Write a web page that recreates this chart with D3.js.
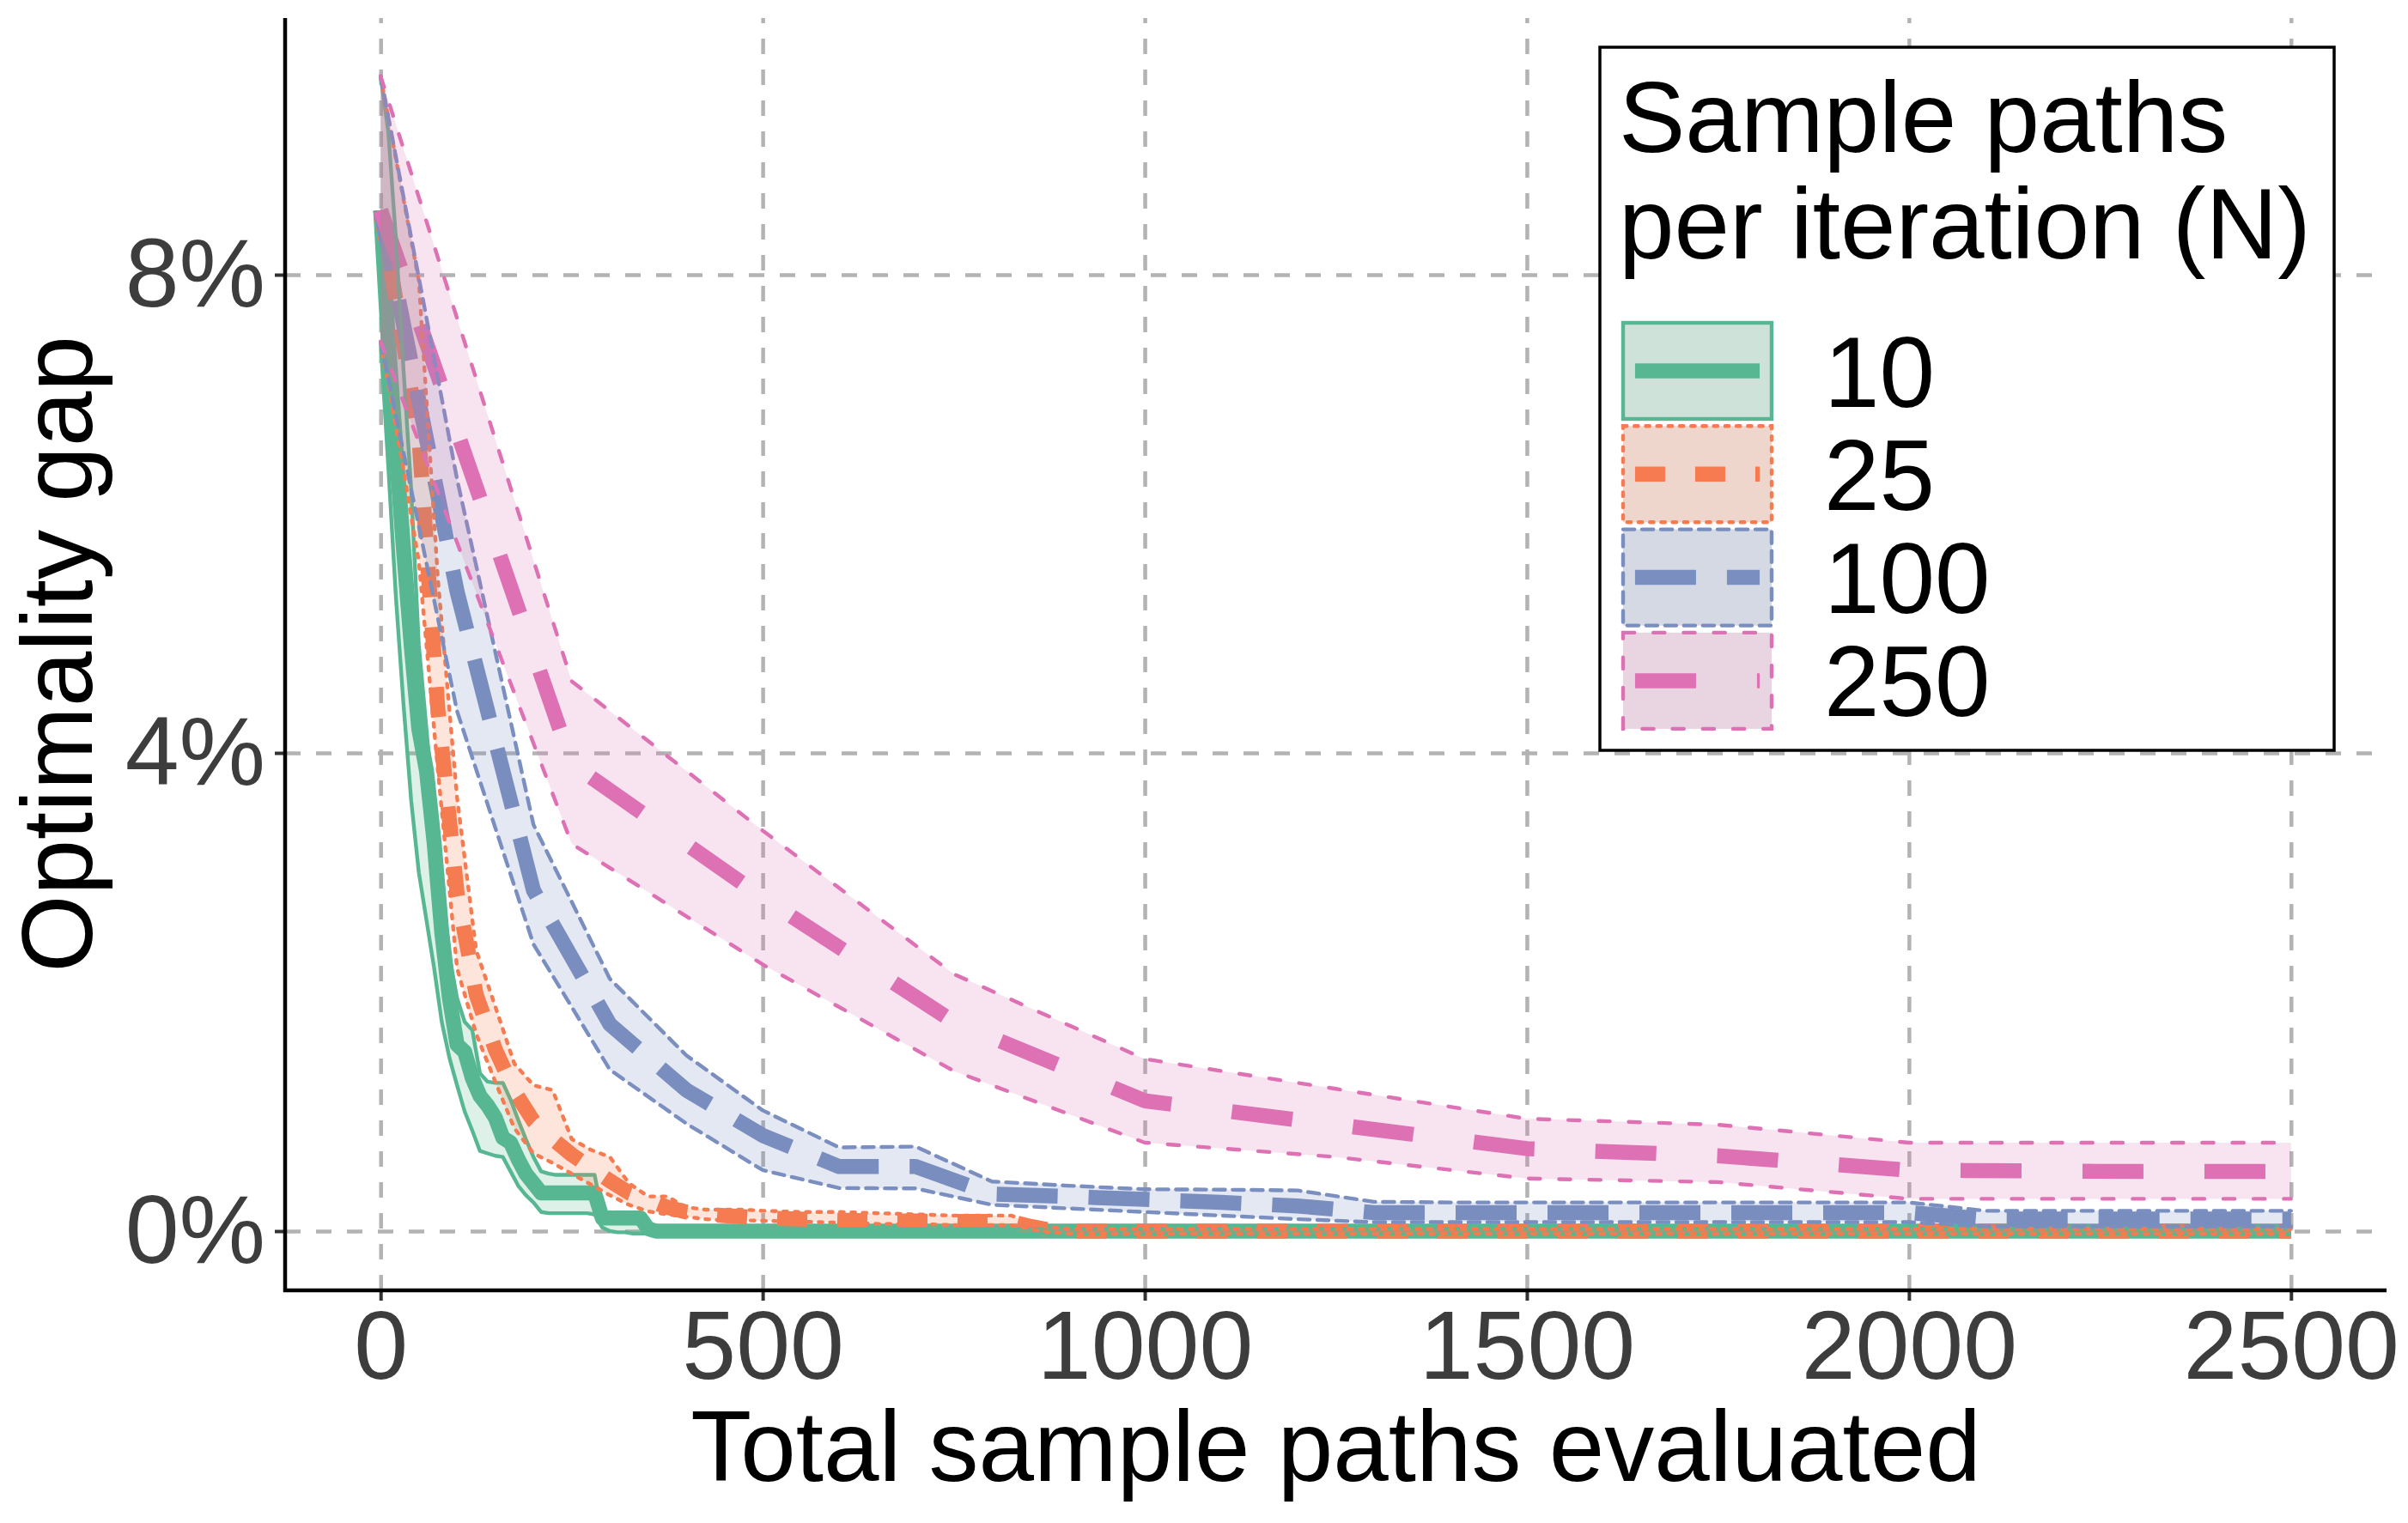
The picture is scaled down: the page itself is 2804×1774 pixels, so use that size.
<!DOCTYPE html>
<html>
<head>
<meta charset="utf-8">
<script src="https://cdn.jsdelivr.net/npm/d3@7"></script>
<style>
html, body { margin: 0; padding: 0; background: #fff; }
svg text { font-family: "Liberation Sans", Arial, Helvetica, sans-serif; }
</style>
</head>
<body>
<div id="container"></div>
<script>
const width = 2804;
const height = 1774;

// ---- data (optimality gap in %) ----
const groups = ['10', '25', '100', '250'];
const xTicks = [0, 500, 1000, 1500, 2000, 2500];
const yTicks = [0, 4, 8];

const x10 = [0,10,20,30,40,50,60,70,80,90,100,110,120,130,140,150,160,170,180,190,200,210,220,230,240,250,260,270,280,290,300,310,320,330,340,350,360,370,380,390,400,2500];
const mean10 = [8.54,7.45,6.55,5.70,4.90,4.20,3.85,3.25,2.50,1.95,1.56,1.50,1.28,1.13,1.05,0.95,0.78,0.74,0.60,0.48,0.40,0.32,0.32,0.32,0.32,0.32,0.32,0.32,0.32,0.11,0.11,0.11,0.11,0.11,0.11,0.02,0,0,0,0,0,0];
const upper10 = [9.66,9.20,8.30,7.20,6.20,4.90,4.20,3.50,2.90,2.30,1.95,1.75,1.68,1.32,1.25,1.24,1.24,1.10,0.93,0.77,0.62,0.50,0.48,0.47,0.47,0.47,0.47,0.47,0.47,0.15,0.15,0.15,0.15,0.12,0.09,0.05,0.04,0.03,0.03,0.02,0.02,0.02];
const lower10 = [7.44,6.40,5.30,4.40,3.60,3.00,2.60,2.20,1.75,1.45,1.22,1.00,0.84,0.67,0.65,0.63,0.62,0.50,0.38,0.30,0.24,0.16,0.15,0.15,0.15,0.15,0.15,0.15,0.14,0.03,0.0,-0.01,-0.01,-0.02,-0.02,-0.02,-0.02,-0.02,-0.02,-0.02,-0.02,-0.02];

const x25 = [0,25,50,75,100,125,150,175,200,225,250,275,300,325,350,375,400,425,450,475,500,550,600,650,700,750,800,825,850,875,900,2500];
const mean25 = [8.54,7.60,6.65,4.35,2.83,1.98,1.52,1.17,0.92,0.77,0.64,0.53,0.42,0.32,0.26,0.20,0.16,0.14,0.13,0.12,0.11,0.10,0.09,0.085,0.085,0.08,0.08,0.08,0.04,0.01,0,0];
const upper25 = [9.66,8.80,7.95,5.45,3.63,2.35,1.88,1.40,1.22,1.18,0.77,0.68,0.62,0.40,0.29,0.29,0.20,0.18,0.18,0.18,0.17,0.16,0.16,0.15,0.14,0.13,0.13,0.13,0.08,0.03,0.02,0.02];
const lower25 = [7.44,6.55,5.60,3.85,2.20,1.65,1.25,0.86,0.65,0.57,0.48,0.39,0.30,0.22,0.165,0.14,0.12,0.10,0.09,0.09,0.086,0.08,0.07,0.06,0.06,0.05,0.05,0.05,0.02,-0.01,-0.02,-0.02];

const x100 = [0,100,200,300,400,500,600,700,800,900,1000,1100,1200,1300,1400,1500,1600,1700,1800,1900,2000,2100,2200,2300,2400,2500];
const mean100 = [8.54,5.35,2.85,1.73,1.18,0.80,0.54,0.54,0.31,0.29,0.265,0.24,0.21,0.155,0.155,0.155,0.155,0.155,0.155,0.155,0.155,0.10,0.10,0.10,0.10,0.10];
const upper100 = [9.66,6.29,3.40,2.11,1.47,1.01,0.70,0.707,0.415,0.38,0.35,0.347,0.34,0.245,0.24,0.24,0.24,0.24,0.24,0.24,0.24,0.17,0.17,0.17,0.17,0.17];
const lower100 = [7.44,4.35,2.40,1.35,0.90,0.51,0.36,0.357,0.22,0.19,0.16,0.13,0.10,0.075,0.075,0.075,0.075,0.075,0.075,0.075,0.075,0.04,0.04,0.04,0.04,0.04];

const x250 = [0,250,500,750,1000,1250,1500,1750,2000,2250,2500];
const mean250 = [8.54,3.91,2.79,1.75,1.09,0.89,0.69,0.63,0.51,0.50,0.50];
const upper250 = [9.66,4.60,3.35,2.15,1.44,1.19,0.94,0.89,0.74,0.74,0.74];
const lower250 = [7.44,3.24,2.23,1.34,0.74,0.62,0.44,0.41,0.27,0.27,0.27];

// ---- styles ----
const colors = { '10': '#57b793', '25': '#f67b50', '100': '#7a8ec0', '250': '#de71b4' };
const mainDash = { '10': null, '25': '35,35', '100': '71,36', '250': '71,71' };
const edgeDash = { '10': null, '25': '4.4,8.8', '100': '13.2,8.8', '250': '13.2,22' };

const series = [
    { n: '10', x: x10, mean: mean10, upper: upper10, lower: lower10 },
    { n: '25', x: x25, mean: mean25, upper: upper25, lower: lower25 },
    { n: '100', x: x100, mean: mean100, upper: upper100, lower: lower100 },
    { n: '250', x: x250, mean: mean250, upper: upper250, lower: lower250 }
];

const panel = { left: 332, right: 2779, top: 21, bottom: 1503 };

const xScale = d3.scaleLinear().domain([-125, 2625]).range([panel.left, panel.right]);
const yScale = d3.scaleLinear().domain([0, 8]).range([1434, 320]);

const svg = d3.select('#container')
    .append('svg')
    .attr('width', width)
    .attr('height', height)
    .style('display', 'block')
    .style('background-color', '#fff');

svg.append('defs').append('clipPath')
    .attr('id', 'panelClip')
    .append('rect')
    .attr('x', panel.left)
    .attr('y', panel.top)
    .attr('width', panel.right - panel.left)
    .attr('height', panel.bottom - panel.top);

/* GRID */
const grid = svg.append('g').attr('class', 'grid');
grid.append('g')
    .attr('transform', `translate(0,${panel.bottom})`)
    .call(d3.axisBottom(xScale).tickValues(xTicks).tickSize(-(panel.bottom - panel.top)).tickFormat(''))
    .call(g => g.select('.domain').remove());
grid.append('g')
    .attr('transform', `translate(${panel.left},0)`)
    .call(d3.axisLeft(yScale).tickValues(yTicks).tickSize(-(panel.right - panel.left)).tickFormat(''))
    .call(g => g.select('.domain').remove());
grid.selectAll('line')
    .attr('stroke', '#b3b3b3')
    .attr('stroke-width', 4.5)
    .attr('stroke-dasharray', '18,18');

/* DATA */
const plot = svg.append('g').attr('clip-path', 'url(#panelClip)');

const rows = s => s.x.map((xv, i) => ({ x: xv, m: s.mean[i], u: s.upper[i], l: s.lower[i] }));

const meanLine = d3.line().x(d => xScale(d.x)).y(d => yScale(d.m));
const upLine = d3.line().x(d => xScale(d.x)).y(d => yScale(d.u));
const loLine = d3.line().x(d => xScale(d.x)).y(d => yScale(d.l));
const band = d3.area().x(d => xScale(d.x)).y0(d => yScale(d.l)).y1(d => yScale(d.u));

// lines first, ribbons drawn over them
series.forEach(s => {
    plot.append('path')
        .attr('d', meanLine(rows(s)))
        .attr('fill', 'none')
        .attr('stroke', colors[s.n])
        .attr('stroke-width', 17.5)
        .attr('stroke-linejoin', 'round')
        .attr('stroke-linecap', 'butt')
        .attr('stroke-dasharray', mainDash[s.n]);
});

series.forEach(s => {
    const r = rows(s);
    plot.append('path')
        .attr('d', band(r))
        .attr('fill', colors[s.n])
        .attr('fill-opacity', 0.2);
    [upLine, loLine].forEach(fn => {
        plot.append('path')
            .attr('d', fn(r))
            .attr('fill', 'none')
            .attr('stroke', colors[s.n])
            .attr('stroke-width', 4.4)
            .attr('stroke-linejoin', 'round')
            .attr('stroke-linecap', s.n === '10' ? 'butt' : 'round')
            .attr('stroke-dasharray', edgeDash[s.n]);
    });
});

/* AXES */
const xAxis = svg.append('g')
    .attr('transform', `translate(0,${panel.bottom})`)
    .call(d3.axisBottom(xScale).tickValues(xTicks).tickSize(12).tickPadding(11).tickFormat(d3.format('d')));
const yAxis = svg.append('g')
    .attr('transform', `translate(${panel.left},0)`)
    .call(d3.axisLeft(yScale).tickValues(yTicks).tickSize(12).tickPadding(11).tickFormat(d => d + '%'));

[xAxis, yAxis].forEach(a => {
    a.select('.domain').remove();
    a.selectAll('.tick line').attr('stroke', '#333').attr('stroke-width', 4);
    a.selectAll('.tick text')
        .attr('fill', '#3d3d3d')
        .style('font-size', '113px')
        .style('font-family', '"Liberation Sans", Arial, sans-serif');
});

svg.append('line')
    .attr('x1', panel.left).attr('x2', panel.left)
    .attr('y1', panel.top).attr('y2', panel.bottom + 2)
    .attr('stroke', '#000').attr('stroke-width', 4.5);
svg.append('line')
    .attr('x1', panel.left - 2).attr('x2', panel.right)
    .attr('y1', panel.bottom).attr('y2', panel.bottom)
    .attr('stroke', '#000').attr('stroke-width', 4.5);

svg.append('text')
    .attr('x', (panel.left + panel.right) / 2)
    .attr('y', 1725)
    .attr('text-anchor', 'middle')
    .style('font-size', '116px')
    .attr('fill', '#000')
    .text('Total sample paths evaluated');

svg.append('text')
    .attr('transform', `translate(107,${(panel.top + panel.bottom) / 2}) rotate(-90)`)
    .attr('text-anchor', 'middle')
    .style('font-size', '116px')
    .attr('fill', '#000')
    .text('Optimality gap');

/* LEGEND */
const legend = svg.append('g').attr('id', 'legend');

legend.append('rect')
    .attr('x', 1863).attr('y', 55)
    .attr('width', 855).attr('height', 819)
    .attr('fill', '#fff')
    .attr('stroke', '#000')
    .attr('stroke-width', 3.5);

legend.append('text')
    .attr('x', 1885).attr('y', 177)
    .style('font-size', '116px')
    .text('Sample paths');
legend.append('text')
    .attr('x', 1885).attr('y', 301)
    .style('font-size', '116px')
    .text('per iteration (N)');

const keyW = 177, keyH = 116, keyStep = 120.3, keyX = 1888, keyY = 374;

const keys = legend.selectAll('g.key')
    .data(groups)
    .enter().append('g')
    .attr('class', 'key')
    .attr('transform', (d, i) => `translate(${keyX},${keyY + i * keyStep})`);

keys.append('rect')
    .attr('x', 2).attr('y', 2)
    .attr('width', keyW - 4).attr('height', keyH - 4)
    .attr('fill', '#ededed');
keys.append('rect')
    .attr('x', 2).attr('y', 2)
    .attr('width', keyW - 4).attr('height', keyH - 4)
    .attr('fill', d => colors[d])
    .attr('fill-opacity', 0.2)
    .attr('stroke', d => colors[d])
    .attr('stroke-width', 4.4)
    .attr('stroke-linecap', d => d === '10' ? 'butt' : 'round')
    .attr('stroke-dasharray', d => edgeDash[d]);
keys.append('line')
    .attr('x1', keyW * 0.09).attr('x2', keyW * 0.91)
    .attr('y1', keyH / 2).attr('y2', keyH / 2)
    .attr('stroke', d => colors[d])
    .attr('stroke-width', 17.5)
    .attr('stroke-dasharray', d => mainDash[d]);
keys.append('text')
    .attr('x', 2124 - keyX)
    .attr('y', keyH / 2 + 41.5)
    .style('font-size', '116px')
    .text(d => d);

</script>
</body>
</html>
